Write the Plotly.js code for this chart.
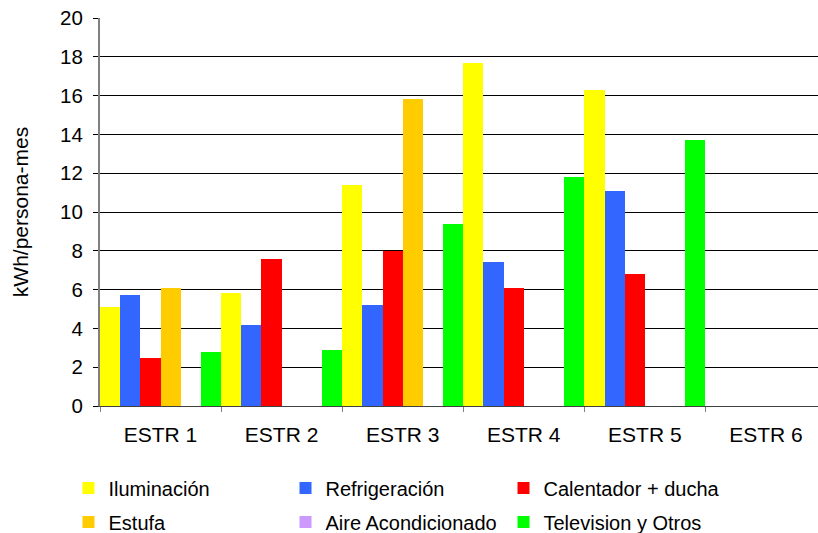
<!DOCTYPE html>
<html>
<head>
<meta charset="utf-8">
<script src="https://cdn.plot.ly/plotly-3.0.1.min.js"></script>
<style>
  html, body { margin: 0; padding: 0; background: #fff; overflow: hidden; }
</style>
</head>
<body>
<div id="chart" style="width:818px;height:533px;"></div>
<script>
var estratos = ['ESTR 1', 'ESTR 2', 'ESTR 3', 'ESTR 4', 'ESTR 5', 'ESTR 6'];

var iluminacion   = [5.1, 5.8, 11.4, 17.7, 16.3, 0];
var refrigeracion = [5.7, 4.2, 5.2, 7.4, 11.1, 0];
var calentador    = [2.5, 7.6, 8.0, 6.1, 6.8, 0];
var estufa        = [6.1, 0, 15.8, 0, 0, 0];
var aire          = [0, 0, 0, 0, 0, 0];
var television    = [2.8, 2.9, 9.4, 11.8, 13.7, 0];

var fuente = 'Liberation Sans, Arial, sans-serif';

function serie(nombre, valores, color, leyenda) {
  return {
    x: estratos,
    y: valores,
    name: nombre,
    type: 'bar',
    legend: leyenda,
    marker: { color: color, line: { width: 0 } },
    hoverinfo: 'skip'
  };
}

// columns 1-2 share a legend per row, column 3 gets its own so its text is not clipped
var data = [
  serie('Iluminación', iluminacion, '#FFFF00', 'legend'),
  serie('Refrigeración', refrigeracion, '#3366FF', 'legend'),
  serie('Calentador + ducha', calentador, '#FF0000', 'legend3'),
  serie('Estufa', estufa, '#FFCC00', 'legend2'),
  serie('Aire Acondicionado', aire, '#CC99FF', 'legend2'),
  serie('Television y Otros', television, '#00FF00', 'legend4')
];

function leyenda(px, py) {
  return {
    orientation: 'h',
    xref: 'container', yref: 'container',
    x: px / 818, xanchor: 'left',
    y: 1 - py / 533, yanchor: 'middle',
    entrywidth: 172, entrywidthmode: 'pixels',
    bgcolor: 'rgba(0,0,0,0)',
    font: { family: fuente, size: 20, color: '#000' }
  };
}

var layout = {
  width: 818,
  height: 533,
  margin: { l: 100, r: 0, t: 18, b: 127 },
  paper_bgcolor: '#fff',
  plot_bgcolor: '#fff',
  font: { family: fuente, size: 21, color: '#000' },
  barmode: 'group',
  bargap: 0,
  bargroupgap: 0,
  showlegend: true,
  legend:  leyenda(68.5, 488),
  legend2: leyenda(68.5, 522),
  legend3: leyenda(503.5, 488),
  legend4: leyenda(503.5, 522),
  xaxis: {
    type: 'category',
    range: [-0.5, 5.43],
    tickson: 'boundaries',
    ticks: 'outside',
    ticklen: 5,
    tickcolor: '#808080',
    showline: true,
    linecolor: '#404040',
    linewidth: 1,
    showgrid: false,
    tickfont: { family: fuente, size: 21 },
    ticklabelstandoff: 10,
    fixedrange: true
  },
  yaxis: {
    title: { text: 'kWh/persona-mes', standoff: 26, font: { family: fuente, size: 21 } },
    range: [0, 20],
    dtick: 2,
    ticks: 'outside',
    ticklen: 5,
    tickcolor: '#000',
    showline: true,
    linecolor: '#808080',
    linewidth: 2,
    showgrid: true,
    gridcolor: '#000',
    gridwidth: 1,
    zeroline: false,
    tickfont: { family: fuente, size: 20.5 },
    ticklabelstandoff: 6,
    fixedrange: true
  }
};

Plotly.newPlot('chart', data, layout, { displayModeBar: false, staticPlot: true });
</script>
</body>
</html>
